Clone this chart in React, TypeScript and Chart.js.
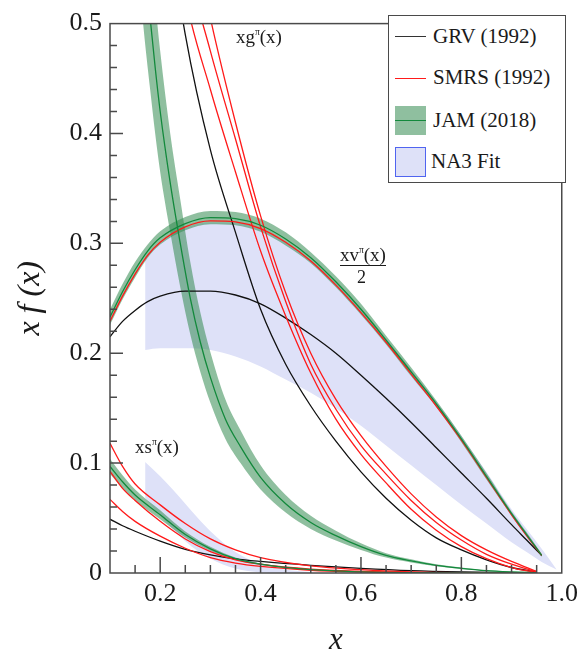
import React, { useEffect, useRef } from 'react';
import { Chart, registerables } from 'chart.js';

Chart.register(...registerables);

// ---------------- axes ----------------
const xTickValues = [0.2, 0.4, 0.6, 0.8, 1.0];
const xTickLabels = ['0.2', '0.4', '0.6', '0.8', '1.0'];
const yTickValues = [0, 0.1, 0.2, 0.3, 0.4, 0.5];
const yTickLabels = ['0', '0.1', '0.2', '0.3', '0.4', '0.5'];
const xMajorMarks = [0.2, 0.4, 0.6, 0.8];
const xMinorMarks = [0.15, 0.25, 0.3, 0.35, 0.45, 0.5, 0.55, 0.65, 0.7, 0.75, 0.85, 0.9, 0.95];
const yMajorMarks = [0.1, 0.2, 0.3, 0.4];
const yMinorMarks = [0.02, 0.04, 0.06, 0.08, 0.12, 0.14, 0.16, 0.18, 0.22, 0.24, 0.26, 0.28,
  0.32, 0.34, 0.36, 0.38, 0.42, 0.44, 0.46, 0.48];

// ---------------- valence  xv(x)/2 ----------------
const valX = [0.1, 0.125, 0.15, 0.175, 0.2, 0.25, 0.3, 0.35, 0.4, 0.45, 0.5, 0.55, 0.6, 0.65, 0.7, 0.75, 0.8, 0.85, 0.9, 0.93, 0.96];
const jamVal = [0.233, 0.256, 0.276, 0.293, 0.305, 0.318, 0.3235, 0.3225, 0.3165, 0.304, 0.287, 0.265, 0.24, 0.212, 0.183, 0.154, 0.122, 0.088, 0.054, 0.035, 0.016];
const jamValHi = [0.24, 0.263, 0.283, 0.299, 0.311, 0.324, 0.3295, 0.3285, 0.3225, 0.31, 0.292, 0.27, 0.245, 0.216, 0.187, 0.157, 0.125, 0.091, 0.056, 0.037, 0.0175];
const jamValLo = [0.226, 0.249, 0.269, 0.287, 0.299, 0.312, 0.3175, 0.3165, 0.3105, 0.298, 0.282, 0.26, 0.235, 0.208, 0.179, 0.151, 0.119, 0.085, 0.052, 0.033, 0.0145];
const smrsVal = [0.229, 0.252, 0.272, 0.289, 0.301, 0.315, 0.3205, 0.3195, 0.3135, 0.301, 0.284, 0.262, 0.237, 0.21, 0.181, 0.152, 0.121, 0.087, 0.053, 0.034, 0.016];
const grvVal = [0.215, 0.229, 0.239, 0.247, 0.252, 0.2565, 0.2565, 0.253, 0.245, 0.232, 0.217, 0.2, 0.18, 0.159, 0.137, 0.114, 0.091, 0.068, 0.044, 0.03, 0.016];

const na3ValX = [0.17, 0.2, 0.25, 0.3, 0.35, 0.4, 0.45, 0.5, 0.55, 0.6, 0.65, 0.7, 0.75, 0.8, 0.85, 0.9, 0.93, 0.96, 0.99];
const na3ValHi = [0.288, 0.3, 0.314, 0.319, 0.319, 0.313, 0.301, 0.285, 0.264, 0.24, 0.213, 0.185, 0.156, 0.125, 0.092, 0.058, 0.04, 0.022, 0.003];
const na3ValLo = [0.203, 0.2045, 0.2045, 0.203, 0.197, 0.188, 0.176, 0.164, 0.15, 0.134, 0.116, 0.098, 0.08, 0.062, 0.045, 0.028, 0.019, 0.01, 0.003];

// ---------------- gluon  xg(x) ----------------
const jamGluonX = [0.15, 0.165, 0.18, 0.19, 0.2, 0.22, 0.24, 0.26, 0.28, 0.3, 0.33, 0.36, 0.4, 0.45, 0.5, 0.55, 0.6, 0.65, 0.7, 0.75, 0.8, 0.85, 0.9, 0.95];
const jamGluon = [0.68, 0.58, 0.505, 0.46, 0.42, 0.355, 0.3, 0.25, 0.21, 0.178, 0.14, 0.115, 0.087, 0.063, 0.046, 0.034, 0.024, 0.016, 0.011, 0.007, 0.0043, 0.0022, 0.001, 0.0002];
const jamGluonHi = [0.77, 0.655, 0.57, 0.52, 0.475, 0.4, 0.34, 0.283, 0.237, 0.201, 0.158, 0.13, 0.098, 0.071, 0.052, 0.0385, 0.027, 0.018, 0.0124, 0.0079, 0.0049, 0.0025, 0.0011, 0.0002];
const jamGluonLo = [0.59, 0.505, 0.44, 0.4, 0.365, 0.31, 0.26, 0.217, 0.183, 0.155, 0.122, 0.1, 0.076, 0.055, 0.04, 0.0295, 0.021, 0.014, 0.0096, 0.0061, 0.0037, 0.0019, 0.0009, 0.0002];

const gluonX = [0.15, 0.2, 0.25, 0.3, 0.35, 0.4, 0.45, 0.5, 0.55, 0.6, 0.65, 0.7, 0.75, 0.8, 0.85, 0.9, 0.95];
const grvGluon = [0.82, 0.64, 0.49, 0.385, 0.31, 0.24, 0.19, 0.152, 0.12, 0.092, 0.068, 0.048, 0.032, 0.021, 0.012, 0.005, 0.001];
const smrsGluon1 = [0.88, 0.67, 0.525, 0.44, 0.365, 0.293, 0.234, 0.182, 0.14, 0.108, 0.082, 0.058, 0.039, 0.024, 0.013, 0.005, 0.0004];
const smrsGluon2 = [0.92, 0.71, 0.565, 0.475, 0.395, 0.315, 0.247, 0.19, 0.149, 0.116, 0.09, 0.066, 0.046, 0.03, 0.017, 0.008, 0.001];
const smrsGluon3 = [0.96, 0.76, 0.62, 0.505, 0.41, 0.325, 0.255, 0.2, 0.158, 0.125, 0.097, 0.072, 0.051, 0.034, 0.021, 0.0105, 0.0015];

// ---------------- sea  xs(x) ----------------
const seaX = [0.1, 0.125, 0.15, 0.2, 0.25, 0.3, 0.35, 0.4, 0.5, 0.6, 0.7, 0.8, 0.9, 0.95];
const smrsSea1 = [0.118, 0.097, 0.081, 0.062, 0.045, 0.031, 0.021, 0.014, 0.0065, 0.003, 0.001, 0.0003, 0.0001, 0];
const smrsSea2 = [0.0925, 0.077, 0.066, 0.047, 0.031, 0.0195, 0.012, 0.008, 0.0035, 0.0015, 0.0005, 0.0001, 0, 0];
const smrsSea3 = [0.067, 0.056, 0.047, 0.0335, 0.0225, 0.014, 0.009, 0.006, 0.0025, 0.001, 0.0003, 0.0001, 0, 0];
const jamSea = [0.097, 0.083, 0.071, 0.053, 0.035, 0.022, 0.013, 0.008, 0.003, 0.001, 0.0003, 0.0001, 0, 0];
const jamSeaHi = [0.104, 0.089, 0.076, 0.057, 0.0378, 0.0238, 0.0141, 0.0087, 0.0033, 0.0011, 0.0003, 0.0001, 0, 0];
const jamSeaLo = [0.09, 0.077, 0.066, 0.049, 0.0322, 0.0202, 0.0119, 0.0073, 0.0027, 0.0009, 0.0003, 0.0001, 0, 0];
const grvSea = [0.049, 0.043, 0.038, 0.029, 0.0215, 0.0165, 0.0128, 0.0105, 0.007, 0.0043, 0.0022, 0.001, 0.0003, 0.0001];

const na3SeaX = [0.17, 0.2, 0.225, 0.25, 0.275, 0.3, 0.35, 0.4, 0.45, 0.5];
const na3SeaHi = [0.101, 0.088, 0.076, 0.063, 0.05, 0.038, 0.019, 0.008, 0.003, 0.001];
const na3SeaLo = [0.068, 0.052, 0.04, 0.029, 0.02, 0.013, 0.004, 0.0005, 0, 0];

// ---------------- styles ----------------
const SERIF = '"Liberation Serif", "Times New Roman", serif';
const BLACK = '#111111';
const RED = '#ff1a1a';
const GREEN = '#13893c';
const GREEN_BAND = 'rgba(51,139,80,0.55)';
const NA3_FILL = 'rgb(222,225,248)';
const NA3_EDGE = 'rgb(80,100,240)';
const FRAME = '#4a4a4a';

Chart.defaults.font.family = SERIF;

const pts = (xs: number[], ys: number[]) => xs.map((x, i) => ({ x, y: ys[i] }));

const line = (xs: number[], ys: number[], color: string) => ({
  data: pts(xs, ys),
  borderColor: color,
  borderWidth: 1.3,
  pointRadius: 0,
  fill: false,
  tension: 0.4,
  cubicInterpolationMode: 'monotone' as const,
});

const bandPair = (xs: number[], hi: number[], lo: number[], color: string) => [
  {
    data: pts(xs, hi),
    borderWidth: 0,
    borderColor: 'rgba(0,0,0,0)',
    backgroundColor: color,
    pointRadius: 0,
    fill: '+1',
    tension: 0.4,
    cubicInterpolationMode: 'monotone' as const,
  },
  {
    data: pts(xs, lo),
    borderWidth: 0,
    borderColor: 'rgba(0,0,0,0)',
    backgroundColor: color,
    pointRadius: 0,
    fill: false,
    tension: 0.4,
    cubicInterpolationMode: 'monotone' as const,
  },
];

const framePlugin = {
  id: 'frameTicks',
  afterDraw(chart: any) {
    const { ctx, chartArea: a, scales } = chart;
    const sx = scales.x;
    const sy = scales.y;
    ctx.save();
    ctx.strokeStyle = FRAME;
    ctx.lineWidth = 1.5;
    ctx.beginPath();
    xMajorMarks.forEach((v) => {
      const p = sx.getPixelForValue(v);
      ctx.moveTo(p, a.bottom);
      ctx.lineTo(p, a.bottom - 16);
    });
    xMinorMarks.forEach((v) => {
      const p = sx.getPixelForValue(v);
      ctx.moveTo(p, a.bottom);
      ctx.lineTo(p, a.bottom - 8);
    });
    yMajorMarks.forEach((v) => {
      const p = sy.getPixelForValue(v);
      ctx.moveTo(a.left, p);
      ctx.lineTo(a.left + 13, p);
    });
    yMinorMarks.forEach((v) => {
      const p = sy.getPixelForValue(v);
      ctx.moveTo(a.left, p);
      ctx.lineTo(a.left + 7, p);
    });
    ctx.stroke();
    ctx.strokeRect(a.left, a.top, a.right - a.left, a.bottom - a.top);
    ctx.restore();
  },
};

function Txt(props: { left: number; baseline: number; size: number; children: any; style?: any }) {
  const { left, baseline, size, children, style } = props;
  return (
    <div
      style={{
        position: 'absolute',
        left,
        top: baseline - 0.84 * size,
        fontSize: size,
        lineHeight: 1,
        whiteSpace: 'nowrap',
        fontFamily: SERIF,
        color: '#1a1a1a',
        ...style,
      }}
    >
      {children}
    </div>
  );
}

const Pi = () => (
  <span style={{ fontSize: '0.5em', verticalAlign: '0.85em', lineHeight: 0 }}>π</span>
);

export default function App() {
  const ref = useRef<HTMLCanvasElement>(null);

  useEffect(() => {
    const datasets: any[] = [
      line(valX, jamVal, GREEN),
      line(jamGluonX, jamGluon, GREEN),
      line(seaX, jamSea, GREEN),
      line(valX, smrsVal, RED),
      line(gluonX, smrsGluon1, RED),
      line(gluonX, smrsGluon2, RED),
      line(gluonX, smrsGluon3, RED),
      line(seaX, smrsSea1, RED),
      line(seaX, smrsSea2, RED),
      line(seaX, smrsSea3, RED),
      line(valX, grvVal, BLACK),
      line(gluonX, grvGluon, BLACK),
      line(seaX, grvSea, BLACK),
      ...bandPair(valX, jamValHi, jamValLo, GREEN_BAND),
      ...bandPair(jamGluonX, jamGluonHi, jamGluonLo, GREEN_BAND),
      ...bandPair(seaX, jamSeaHi, jamSeaLo, GREEN_BAND),
      ...bandPair(na3ValX, na3ValHi, na3ValLo, NA3_FILL),
      ...bandPair(na3SeaX, na3SeaHi, na3SeaLo, NA3_FILL),
    ];

    const chart = new Chart(ref.current as HTMLCanvasElement, {
      type: 'line',
      data: { datasets },
      options: {
        responsive: false,
        animation: false,
        devicePixelRatio: 1,
        events: [],
        font: { family: SERIF },
        layout: { padding: { top: 16, right: 18, left: 0, bottom: 0 } },
        plugins: {
          legend: { display: false },
          tooltip: { enabled: false },
        },
        scales: {
          x: {
            type: 'linear',
            min: 0.1,
            max: 1.0,
            grid: { display: false, drawTicks: false },
            border: { display: false },
            afterBuildTicks: (s: any) => {
              s.ticks = xTickValues.map((v) => ({ value: v }));
            },
            afterFit: (s: any) => {
              s.height = 80;
            },
            ticks: {
              autoSkip: false,
              maxRotation: 0,
              padding: 6,
              color: '#1a1a1a',
              font: { family: SERIF, size: 26 },
              callback: (_v: any, i: number) => xTickLabels[i],
            },
            title: {
              display: true,
              text: 'x',
              color: '#1a1a1a',
              font: { family: SERIF, size: 31, style: 'italic', lineHeight: 0.8 },
              padding: { top: 0, bottom: 0 },
            },
          },
          y: {
            type: 'linear',
            min: 0,
            max: 0.5,
            grid: { display: false, drawTicks: false },
            border: { display: false },
            afterBuildTicks: (s: any) => {
              s.ticks = yTickValues.map((v) => ({ value: v }));
            },
            afterFit: (s: any) => {
              s.width = 110;
            },
            ticks: {
              autoSkip: false,
              padding: 8,
              color: '#1a1a1a',
              font: { family: SERIF, size: 26 },
              callback: (_v: any, i: number) => yTickLabels[i],
            },
            title: {
              display: true,
              text: 'x f (x)',
              color: '#1a1a1a',
              font: { family: SERIF, size: 32, style: 'italic', lineHeight: 1 },
              padding: { top: 15, bottom: 0 },
            },
          },
        },
      },
      plugins: [framePlugin],
    } as any);

    return () => {
      chart.destroy();
    };
  }, []);

  return (
    <div
      style={{
        position: 'absolute',
        left: 0,
        top: 0,
        width: 584,
        height: 653,
        background: '#ffffff',
        overflow: 'hidden',
        fontFamily: SERIF,
      }}
    >
      <canvas
        ref={ref}
        width={584}
        height={653}
        style={{ position: 'absolute', left: 0, top: 0, width: 584, height: 653 }}
      />

      <Txt left={236} baseline={42.5} size={19}>
        xg<Pi />(x)
      </Txt>
      <Txt left={340} baseline={261} size={19}>
        xv<Pi />(x)
      </Txt>
      <div style={{ position: 'absolute', left: 340, top: 265, width: 46, height: 1.3, background: '#1a1a1a' }} />
      <Txt left={357} baseline={283} size={18}>
        2
      </Txt>
      <Txt left={135} baseline={452.5} size={19}>
        xs<Pi />(x)
      </Txt>

      <div
        style={{
          position: 'absolute',
          left: 388,
          top: 15,
          width: 178,
          height: 168,
          boxSizing: 'border-box',
          border: `1.3px solid ${FRAME}`,
          background: '#ffffff',
        }}
      />
      <div style={{ position: 'absolute', left: 395, top: 36, width: 31, height: 1.3, background: '#333333' }} />
      <Txt left={433} baseline={43.3} size={21}>GRV (1992)</Txt>
      <div style={{ position: 'absolute', left: 395, top: 77.7, width: 31, height: 1.3, background: RED }} />
      <Txt left={433} baseline={85} size={21}>SMRS (1992)</Txt>
      <div style={{ position: 'absolute', left: 395, top: 106, width: 31, height: 29, background: GREEN_BAND }} />
      <div style={{ position: 'absolute', left: 395, top: 119.5, width: 31, height: 1.3, background: GREEN }} />
      <Txt left={433} baseline={127.3} size={21}>JAM (2018)</Txt>
      <div
        style={{
          position: 'absolute',
          left: 395,
          top: 147,
          width: 31,
          height: 30,
          boxSizing: 'border-box',
          border: `1.3px solid ${NA3_EDGE}`,
          background: NA3_FILL,
        }}
      />
      <Txt left={431} baseline={168.3} size={21}>NA3 Fit</Txt>
    </div>
  );
}
